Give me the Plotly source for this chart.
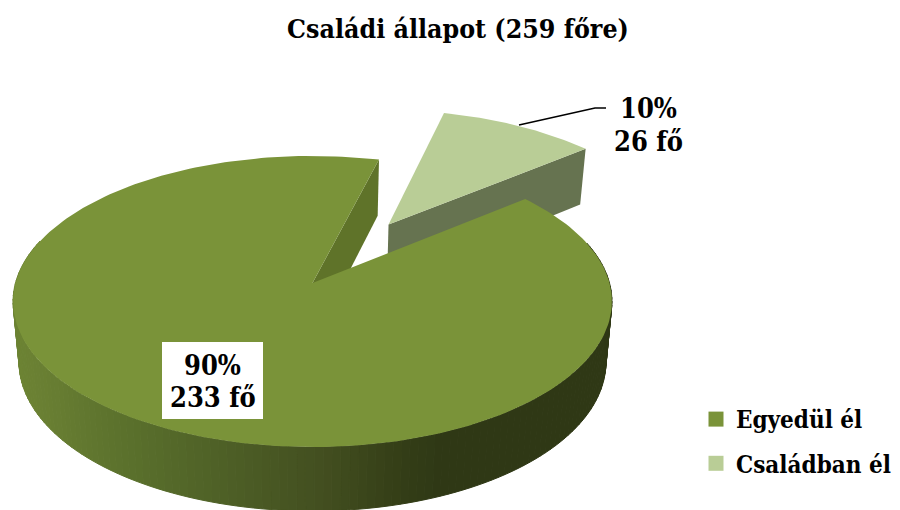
import numpy as np
import plotly.graph_objects as go

# ---- data ----
title_text = "Családi állapot (259 főre)"
categories = ["Egyedül él", "Családban él"]
counts = [233, 26]
percent_labels = ["90%", "10%"]
colors = ["#7a9339", "#b9cd96"]

# ---- styling / projection settings ----
FONT = "DejaVu Serif Condensed"
START_DEG = 50.7
APEX_X, APEX_Y = 312.5, 283
RX, RY, K = 297.0, 143.2, 0.127
PULL_U, PULL_V = 0.27, 0.43
DROP_SCALE = 0.98
TOP_COLOR = "#7a9339"
SMALL_TOP = "#b9cd96"
SMALL_WALL = "#667350"
CUT_WALL = "#5f7329"
GRAD_X = [16, 40, 130, 210, 320, 400, 440, 620]
GRAD_C = [(0x6c, 0x83, 0x33), (0x6a, 0x80, 0x33), (0x5a, 0x70, 0x2c), (0x50, 0x62, 0x27),
          (0x43, 0x4f, 0x20), (0x34, 0x3e, 0x17), (0x2f, 0x38, 0x15), (0x2f, 0x38, 0x15)]


def project(theta_deg, radius=1.0, du=0.0, dv=0.0, drop=False):
    t = np.radians(np.asarray(theta_deg, dtype=float))
    u = radius * np.sin(t) + du
    v = radius * np.cos(t) + dv
    d = 1 + K * v
    x = RX * u / d
    y = APEX_Y - RY * v / d
    if drop:
        x = x * DROP_SCALE
        y = y + (60 - 4 * v)
    return APEX_X + x, y


def grad_color(x):
    c = [np.interp(x, GRAD_X, [g[i] for g in GRAD_C]) for i in range(3)]
    return "rgb(%d,%d,%d)" % tuple(int(round(a)) for a in c)


def poly(x, y, color, line=0):
    return go.Scatter(
        x=list(x), y=list(y), mode="lines", fill="toself", fillcolor=color,
        line=dict(color=color, width=line), hoverinfo="skip", showlegend=False,
    )


total = sum(counts)
main_end = START_DEG + counts[0] / total * 360
small_end = main_end + counts[1] / total * 360

fig = go.Figure()

# pulled-out slice: wall, then top
arc = np.linspace(main_end, small_end, 40)
ax, ay = project(arc, du=PULL_U, dv=PULL_V)
bx, by = project(arc, du=PULL_U, dv=PULL_V, drop=True)
px0, py0 = project(0, radius=0, du=PULL_U, dv=PULL_V)
pxd, pyd = project(0, radius=0, du=PULL_U, dv=PULL_V, drop=True)
fig.add_trace(poly([px0, ax[-1], bx[-1], pxd, px0], [py0, ay[-1], by[-1], pyd, py0], SMALL_WALL))
fig.add_trace(poly([px0, *ax, px0], [py0, *ay, py0], SMALL_TOP))

# main slice: visible cut face
cx, cy = project(main_end % 360)
cxd, cyd = project(main_end % 360, drop=True)
oxd, oyd = project(0, radius=0, drop=True)
fig.add_trace(poly([APEX_X, cx, cxd, oxd, APEX_X], [APEX_Y, cy, cyd, oyd, APEX_Y], CUT_WALL))

# main slice: shaded outer wall as narrow strips
edges = np.arange(START_DEG, main_end + 0.01, 1.5)
for a, b in zip(edges[:-1], edges[1:]):
    if np.cos(np.radians((a + b) / 2)) > 0.3:
        continue
    tt = np.linspace(a, b, 3)
    x1, y1 = project(tt)
    x2, y2 = project(tt, drop=True)
    fig.add_trace(poly(
        [*x1, *x2[::-1], x1[0]], [*y1, *y2[::-1], y1[0]],
        grad_color((x1.mean() + x2.mean()) / 2), line=1,
    ))

# main slice: top
arc = np.linspace(START_DEG, main_end, 240)
ax, ay = project(arc)
fig.add_trace(poly([APEX_X, *ax, APEX_X], [APEX_Y, *ay, APEX_Y], TOP_COLOR))

# legend entries
for name, col in zip(categories, colors):
    fig.add_trace(go.Scatter(
        x=[None], y=[None], mode="markers", name="<b>%s</b>" % name, legendgroup=name,
        marker=dict(symbol="square", size=15, color=col),
    ))

# leader line
fig.add_trace(go.Scatter(
    x=[519, 595, 606], y=[125, 108, 108], mode="lines",
    line=dict(color="black", width=1.5), hoverinfo="skip", showlegend=False,
))


def label_lines(cx, y1, y2, idx):
    base = dict(xref="x", yref="y", showarrow=False,
                font=dict(family=FONT, size=27, color="black"), x=cx)
    return [
        dict(base, y=y1, text="<b>%s</b>" % percent_labels[idx]),
        dict(base, y=y2, text="<b>%d fő</b>" % counts[idx]),
    ]


fig.update_layout(
    width=900, height=510, autosize=False,
    margin=dict(l=0, r=0, t=0, b=0),
    paper_bgcolor="white", plot_bgcolor="white",
    xaxis=dict(range=[0, 900], visible=False, fixedrange=True),
    yaxis=dict(range=[510, 0], visible=False, fixedrange=True),
    title=dict(text="<b>%s</b>" % title_text, x=458 / 900, xanchor="center",
               y=1 - 29 / 510, yanchor="middle",
               font=dict(family=FONT, size=26.5, color="black")),
    legend=dict(x=696 / 900, xanchor="left", y=1 - 397 / 510, yanchor="top",
                traceorder="grouped", tracegroupgap=10,
                font=dict(family=FONT, size=24, color="black"),
                bgcolor="rgba(0,0,0,0)", itemclick=False, itemdoubleclick=False),
    shapes=[dict(type="rect", xref="x", yref="y", x0=162, x1=263, y0=342, y1=419,
                 fillcolor="white", line=dict(width=0), layer="above")],
    annotations=label_lines(212.5, 365, 397, 0) + label_lines(648, 108, 141, 1),
)

fig.write_html("out.html", config=dict(displayModeBar=False),
               post_script="document.body.style.margin='0';")
